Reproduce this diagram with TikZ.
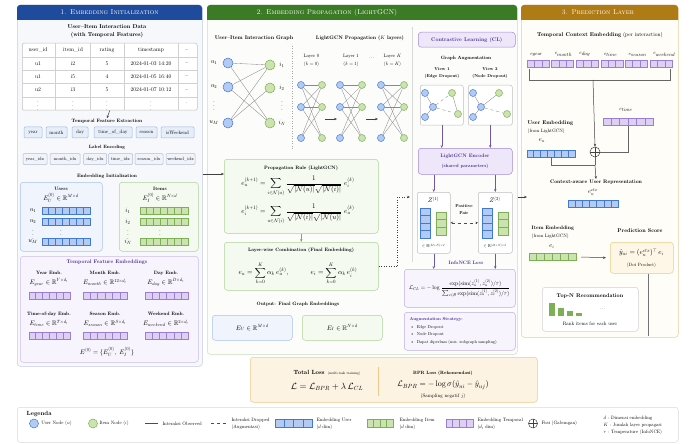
\documentclass[tikz,border=0pt]{standalone}
\usepackage{amsmath,amssymb}
\usepackage{fontspec}
\setmainfont{lmroman10-regular.otf}[BoldFont=lmroman10-bold.otf, ItalicFont=lmroman10-italic.otf, BoldItalicFont=lmroman10-bolditalic.otf, SmallCapsFont=lmromancaps10-regular.otf]
\DeclareFontShape{OML}{cmm}{m}{it}{<->cmmi10}{}
\DeclareFontShape{OML}{cmm}{b}{it}{<->cmmib10}{}
\DeclareFontShape{OMS}{cmsy}{m}{n}{<->cmsy10}{}
\DeclareFontShape{OMS}{cmsy}{b}{n}{<->cmbsy10}{}
\DeclareFontShape{OT1}{cmr}{m}{n}{<->cmr10}{}
\DeclareFontShape{OT1}{cmr}{bx}{n}{<->cmbx10}{}
\DeclareFontFamily{U}{msb}{}
\DeclareFontShape{U}{msb}{m}{n}{<->msbm10}{}
\usetikzlibrary{calc,arrows.meta}
\definecolor{ufill}{HTML}{B3CBF2}
\definecolor{uline}{HTML}{4279D2}
\definecolor{ifill}{HTML}{CBE3AE}
\definecolor{iline}{HTML}{7DB056}
\definecolor{tfill}{HTML}{DDD0F3}
\definecolor{tline}{HTML}{9A7ED4}
\definecolor{hblue}{HTML}{1E4B9C}
\definecolor{hgreen}{HTML}{3C7B25}
\definecolor{hgold}{HTML}{AE7B14}
\definecolor{pone}{HTML}{F7F8FC}
\definecolor{ponel}{HTML}{C3CCE0}
\definecolor{ptwo}{HTML}{FCFDFB}
\definecolor{ptwol}{HTML}{CADDBE}
\definecolor{pthree}{HTML}{FFFDF8}
\definecolor{pthreel}{HTML}{E3CFA0}
\definecolor{greenbf}{HTML}{F5FAF0}
\definecolor{greenbl}{HTML}{AFD395}
\definecolor{bluebf}{HTML}{EFF4FD}
\definecolor{bluebl}{HTML}{A9C2EE}
\definecolor{purbf}{HTML}{F8F4FD}
\definecolor{purbl}{HTML}{CDBDEB}
\definecolor{clf}{HTML}{EEE7FA}
\definecolor{cll}{HTML}{A488D9}
\definecolor{clt}{HTML}{4A2D91}
\definecolor{lossf}{HTML}{FDF3E3}
\definecolor{lossl}{HTML}{EEC88C}
\definecolor{encf}{HTML}{F1F3FA}
\definecolor{encl}{HTML}{B3BCD6}
\definecolor{featf}{HTML}{E6EEFA}
\definecolor{featl}{HTML}{9DB8E6}
\definecolor{edgec}{HTML}{8A8A8A}
\definecolor{predf}{HTML}{FEF6E6}
\definecolor{predl}{HTML}{F0C987}

\newcommand\hcells[6]{% name, center, width, height, cells, colour prefix
  \node[draw=#6line, fill=#6fill, minimum width=#3pt, minimum height=#4pt, inner sep=0pt, line width=0.5pt] (#1) at #2 {};
  \pgfmathtruncatemacro\cellsn{#5-1}
  \foreach \kk in {1,...,\cellsn}{\draw[#6line, line width=0.45pt] ($(#1.south west)!\kk/#5!(#1.south east)$) -- ($(#1.north west)!\kk/#5!(#1.north east)$);}
}
\newcommand\vcells[6]{% name, center, width, height, cells, colour prefix
  \node[draw=#6line, fill=#6fill, minimum width=#3pt, minimum height=#4pt, inner sep=0pt, line width=0.5pt] (#1) at #2 {};
  \pgfmathtruncatemacro\cellsn{#5-1}
  \foreach \kk in {1,...,\cellsn}{\draw[#6line, line width=0.45pt] ($(#1.north west)!\kk/#5!(#1.south west)$) -- ($(#1.north east)!\kk/#5!(#1.south east)$);}
}
\newcommand\fs[1]{\fontsize{#1}{#1}\selectfont}

\tikzset{
  ttl/.style={font=\fs{5.6}\bfseries, inner sep=0.5pt},
  ttlsm/.style={font=\fs{4.8}\bfseries, inner sep=0.5pt},
  ttlxs/.style={font=\fs{4.3}\bfseries, inner sep=0.4pt},
  txt/.style={font=\fs{4.8}, inner sep=0.5pt},
  txs/.style={font=\fs{4.3}, inner sep=0.4pt},
  tbl/.style={font=\fs{5.6}, inner sep=0.5pt},
  lg/.style={font=\fs{4.8}, inner sep=0.3pt, anchor=west},
  mth/.style={font=\fs{6.5}, inner sep=0.5pt},
  eqn/.style={font=\fs{7}, inner sep=0.5pt},
  msm/.style={font=\fs{5}, inner sep=0.3pt},
  hdr/.style={font=\fs{7}\scshape, text=white, inner sep=0pt},
  boxnw/.style={anchor=north west, inner sep=0pt, rounded corners=3pt, line width=0.5pt},
  arr/.style={-{Stealth[length=3pt,width=2.4pt]}, line width=0.5pt, draw=black!75},
  unode/.style={circle, draw=uline, fill=ufill, inner sep=0pt, minimum size=#1, line width=0.5pt},
  unode/.default=10pt,
  inode/.style={circle, draw=iline, fill=ifill, inner sep=0pt, minimum size=#1, line width=0.5pt},
  inode/.default=10pt,
  edge/.style={draw=edgec, line width=0.35pt},
  fbox/.style={draw=featl, fill=featf, rounded corners=1pt, minimum height=11pt, inner sep=0pt, line width=0.5pt, font=\fs{5}},
  ebox/.style={draw=encl, fill=encf, rounded corners=1pt, minimum height=11pt, inner sep=0pt, line width=0.5pt, font=\fs{4.6}},
  fuse/.style={circle, draw=black!75, inner sep=0pt, minimum size=#1, line width=0.5pt,
    path picture={\draw[black!75, line width=0.5pt] (path picture bounding box.north) -- (path picture bounding box.south) (path picture bounding box.west) -- (path picture bounding box.east);}},
  fuse/.default=10pt
}

\begin{document}
\begin{tikzpicture}[x=1pt,y=-1pt]
\useasboundingbox (0,0) rectangle (689,444);
\fill[white] (0,0) rectangle (689,444);

% ================= panels
\node[boxnw, draw=ponel, fill=pone, minimum width=185pt, minimum height=361pt] (P1) at (17,5) {};
\node[boxnw, draw=ptwol, fill=ptwo, minimum width=310pt, minimum height=349pt] (P2) at (207,5) {};
\node[boxnw, draw=pthreel, fill=pthree, minimum width=157pt, minimum height=332pt] (P3) at (521,5) {};
\fill[hblue, rounded corners=3pt] (17,20) -- (17,5) -- (202,5) -- (202,20);
\fill[hgreen, rounded corners=3pt] (207,20) -- (207,5) -- (517,5) -- (517,20);
\fill[hgold, rounded corners=3pt] (521,20) -- (521,5) -- (678,5) -- (678,20);
\node[hdr] (H1) at (109.5,12.5) {1. Embedding Initialization};
\node[hdr] (H2) at (327,12.5) {2. Embedding Propagation (LightGCN)};
\node[hdr] (H3) at (598,12.5) {3. Prediction Layer};

% ================= panel 1
\node[ttl] (t1a) at (107,27) {User--Item Interaction Data};
\node[ttl] (t1b) at (107,35.5) {(with Temporal Features)};
\node[boxnw, draw=black!25, fill=white, rounded corners=2pt, minimum width=175pt, minimum height=67pt] (tbl) at (22,43) {};
\foreach \yy in {57,70,83.5,97}{\draw[black!18, line width=0.4pt] (22,\yy) -- (197,\yy);}
\foreach \xx in {55,90,124,178}{\draw[black!18, line width=0.4pt] (\xx,43) -- (\xx,110);}
\foreach \va/\vb/\vc/\vd/\ve/\yy/\r in {
  user\_id/item\_id/rating/timestamp/\dots/50/0,
  u1/i2/5/2024-01-03 14:20/\dots/63.5/1,
  u1/i5/4/2024-01-05 16:40/\dots/76.5/2,
  u2/i3/5/2024-01-07 10:12/\dots/90/3,
  $\vdots$/$\vdots$/$\vdots$/$\vdots$/./103.5/4}{
  \node[tbl] (tb\r a) at (38,\yy) {\va};
  \node[tbl] (tb\r b) at (73,\yy) {\vb};
  \node[tbl] (tb\r c) at (107,\yy) {\vc};
  \node[tbl] (tb\r d) at (151,\yy) {\vd};
  \node[tbl] (tb\r e) at (187,\yy) {\ve};
}
\node[ttlsm] (tfe) at (107,121) {Temporal Feature Extraction};
\draw[arr] (tbl.south) -- (tfe.north);
\foreach \n/\x/\w [count=\i] in {year/33/18, month/56.5/21, day/80/16, time\_of\_day/113/38, season/146.5/21, isWeekend/177.5/33}{
  \node[fbox, minimum width=\w pt] (f\i) at (\x,132.5) {\n};
}
\node[font=\fs{4.6}\bfseries, inner sep=0.5pt] (lenc) at (107,147) {Label Encoding};
\foreach \n/\x/\w [count=\i] in {year\_idx/35/24, month\_idx/65/30, day\_idx/95/23, time\_idx/120.5/24, season\_idx/149/28, weekend\_idx/180.5/29}{
  \node[ebox, minimum width=\w pt] (le\i) at (\x,159) {\n};
}
\node[ttlsm] (einit) at (107,176.5) {Embedding Initialization};

% users
\node[boxnw, draw=bluebl, fill=bluebf, minimum width=82pt, minimum height=69pt] (UB) at (20,182) {};
\node[ttlsm] (ubt) at (61,188.5) {Users};
\node[mth] (ube) at (61,198) {$E_U^{(0)} \in \mathbb{R}^{M\times d}$};
\node[mth] (ul1) at (33,211) {$u_1$};
\node[mth] (ul2) at (33,222) {$u_2$};
\node[mth] (ul3) at (33,232) {$\vdots$};
\node[mth] (ul4) at (33,242) {$u_M$};
\node[mth] (ul5) at (61,232) {$\vdots$};
\hcells{ub1}{(66,211)}{48}{7}{7}{u}
\hcells{ub2}{(66,222)}{48}{7}{7}{u}
\hcells{ub4}{(66,242)}{48}{7}{7}{u}
% items
\node[boxnw, draw=greenbl, fill=greenbf, minimum width=79pt, minimum height=69pt] (IB) at (119,182) {};
\node[ttlsm] (ibt) at (160,188.5) {Items};
\node[mth] (ibe) at (160,198) {$E_I^{(0)} \in \mathbb{R}^{N\times d}$};
\node[mth] (il1) at (128,211) {$i_1$};
\node[mth] (il2) at (128,222) {$i_2$};
\node[mth] (il3) at (128,232) {$\vdots$};
\node[mth] (il4) at (128,242) {$i_N$};
\node[mth] (il5) at (160,232) {$\vdots$};
\hcells{ib1}{(164,211)}{48}{7}{7}{i}
\hcells{ib2}{(164,222)}{48}{7}{7}{i}
\hcells{ib4}{(164,242)}{48}{7}{7}{i}
% temporal embeddings
\node[boxnw, draw=purbl, fill=purbf, minimum width=178pt, minimum height=106pt] (TB) at (20,256) {};
\node[font=\fs{5.2}\bfseries, text=clt, inner sep=0.5pt] (tbt) at (107,262.5) {Temporal Feature Embeddings};
\node[ttlsm] (te1) at (49,273) {Year Emb.};
\node[ttlsm] (te2) at (105,273) {Month Emb.};
\node[ttlsm] (te3) at (166,273) {Day Emb.};
\node[mth] (tm1) at (49,282.5) {$E_{year} \in \mathbb{R}^{Y\times d_t}$};
\node[mth] (tm2) at (105,282.5) {$E_{month} \in \mathbb{R}^{12\times d_t}$};
\node[mth] (tm3) at (166,282.5) {$E_{day} \in \mathbb{R}^{D\times d_t}$};
\hcells{tb1}{(49.5,295.5)}{41}{7}{6}{t}
\hcells{tb2}{(105,295.5)}{44}{7}{6}{t}
\hcells{tb3}{(166.5,295.5)}{43}{7}{6}{t}
\node[ttlsm] (te4) at (49,314) {Time-of-day Emb.};
\node[ttlsm] (te5) at (105,314) {Season Emb.};
\node[ttlsm] (te6) at (166,314) {Weekend Emb.};
\node[mth] (tm4) at (49,323.5) {$E_{time} \in \mathbb{R}^{T\times d_t}$};
\node[mth] (tm5) at (105,323.5) {$E_{season} \in \mathbb{R}^{S\times d_t}$};
\node[mth] (tm6) at (166,323.5) {$E_{weekend} \in \mathbb{R}^{2\times d_t}$};
\hcells{tb4}{(49.5,336)}{41}{7}{6}{t}
\hcells{tb5}{(105,336)}{44}{7}{6}{t}
\hcells{tb6}{(166.5,336)}{43}{7}{6}{t}
\node[mth] (e0) at (107,352) {$E^{(0)} = \{E_U^{(0)},\; E_I^{(0)}\}$};

% ================= panel 2
\node[font=\fs{5.3}\bfseries, inner sep=0.5pt] (g1t) at (254,38) {User--Item Interaction Graph};
\node[font=\fs{5.1}\bfseries, inner sep=0.5pt] (g2t) at (360,38) {LightGCN Propagation ($K$ layers)};
\node[unode] (u1) at (228,63) {};
\node[unode] (u2) at (228,87) {};
\node[unode] (uM) at (228,123) {};
\node[inode] (i1) at (270,65) {};
\node[inode] (i2) at (270,88) {};
\node[inode] (iN) at (270,123) {};
\node[mth] (lu1) at (214,63) {$u_1$};
\node[mth] (lu2) at (214,87) {$u_2$};
\node[mth] (lu3) at (214,103) {$\vdots$};
\node[mth] (luM) at (214,123) {$u_M$};
\node[mth] (li1) at (282,65) {$i_1$};
\node[mth] (li2) at (282,88) {$i_2$};
\node[mth] (li3) at (282,103) {$\vdots$};
\node[mth] (liN) at (282,123) {$i_N$};
\foreach \a/\b in {u1/i1, u1/iN, u2/i1, u2/iN, uM/i1, uM/i2}{\draw[edge] (\a) -- (\b);}
\draw[black!35, dotted, line width=0.5pt] (292,46) -- (292,150);
\foreach \L/\ux/\ix/\nm/\kv in {0/301/322/0/0, 1/340/362/1/1, 2/381/404/K/K}{
  \node[txt] (lt\L) at ({(\ux+\ix)/2},56) {Layer $\nm$};
  \node[txt] (lk\L) at ({(\ux+\ix)/2},64.5) {$(k=\kv)$};
  \foreach \r/\yy in {1/85, 2/107, 3/138}{
    \node[unode=7pt] (m\L u\r) at (\ux,\yy) {};
    \node[inode=7pt] (m\L i\r) at (\ix,\yy) {};
  }
  \foreach \a/\b in {1/1,1/2,1/3,2/1,2/2,2/3,3/1,3/2}{\draw[edge] (m\L u\a) -- (m\L i\b);}
}
\node[txt] (ldots) at (372,58) {$\cdots$};
\coordinate (ar1s) at (325,119); \coordinate (ar1e) at (337,119);
\coordinate (ar2s) at (366,119); \coordinate (ar2e) at (378,119);
\draw[arr] (ar1s) -- (ar1e);
\draw[arr] (ar2s) -- (ar2e);

\node[boxnw, draw=greenbl, fill=greenbf, minimum width=154pt, minimum height=74pt] (prop) at (224,159) {};
\node[ttlsm] (propt) at (301,168) {Propagation Rule (LightGCN)};
\node[eqn] (eq1) at (298,186.5) {$\displaystyle e_u^{(k+1)} = \sum_{i\in\mathcal{N}(u)} \frac{1}{\sqrt{|\mathcal{N}(u)|}\sqrt{|\mathcal{N}(i)|}}\; e_i^{(k)}$};
\node[eqn] (eq2) at (298,214.5) {$\displaystyle e_i^{(k+1)} = \sum_{u\in\mathcal{N}(i)} \frac{1}{\sqrt{|\mathcal{N}(i)|}\sqrt{|\mathcal{N}(u)|}}\; e_u^{(k)}$};
\node[boxnw, draw=greenbl, fill=greenbf, minimum width=154pt, minimum height=48pt] (comb) at (224,242) {};
\node[ttlsm] (combt) at (301,250) {Layer-wise Combination (Final Embedding)};
\node[eqn] (eq3) at (298,273) {$\displaystyle e_u = \sum_{k=0}^{K} \alpha_k\, e_u^{(k)}, \qquad\quad e_i = \sum_{k=0}^{K} \alpha_k\, e_i^{(k)}$};
\draw[arr, draw=iline] (prop.south) -- (comb.north);
\coordinate (c174) at (0,174);
\draw[arr] (P1.east |- c174) -- (prop.west |- c174);

\node[ttlsm] (outt) at (298,304) {Output: Final Graph Embeddings};
\node[boxnw, draw=bluebl, fill=bluebf, minimum width=80pt, minimum height=25pt] (EU) at (212,315) {};
\node[mth] (EUt) at (EU.center) {$E_U \in \mathbb{R}^{M\times d}$};
\node[boxnw, draw=greenbl, fill=greenbf, minimum width=80pt, minimum height=25pt] (EI) at (302,315) {};
\node[mth] (EIt) at (EI.center) {$E_I \in \mathbb{R}^{N\times d}$};

% ---- contrastive learning column
\draw[black!15, line width=0.5pt] (412,27) -- (412,262);
\coordinate (clin) at (410,197);
\draw[arr, dotted] (comb.east) -- ++(19,0) |- (clin);
\node[boxnw, draw=cll, fill=clf, minimum width=97pt, minimum height=15pt] (CL) at (418,32) {};
\node[font=\fs{5.3}\bfseries, text=clt, inner sep=0.5pt] (CLt) at (CL.center) {Contrastive Learning (CL)};
\node[font=\fs{4.7}\bfseries, inner sep=0.5pt] (gat) at (466,58) {Graph Augmentation};
\node[ttlxs] (v1a) at (442,69) {View 1};
\node[ttlxs] (v1b) at (442,76.5) {(Edge Dropout)};
\node[ttlxs] (v2a) at (490,69) {View 2};
\node[ttlxs] (v2b) at (490,76.5) {(Node Dropout)};
\node[boxnw, draw=black!25, fill=white, rounded corners=2pt, minimum width=43pt, minimum height=40pt] (V1) at (420,85) {};
\node[boxnw, draw=black!25, fill=white, rounded corners=2pt, minimum width=44pt, minimum height=40pt] (V2) at (468,85) {};
\node[unode=7pt] (a1) at (425,93) {};
\node[unode=7pt] (a2) at (433,107) {};
\node[unode=7pt] (a3) at (425,117) {};
\node[inode=7pt] (a4) at (452,93) {};
\node[inode=7pt] (a5) at (458,114) {};
\draw[edge] (a2) -- (a1);
\draw[edge] (a2) -- (a3);
\draw[edge, dashed] (a2) -- (a4);
\draw[edge, dashed] (a2) -- (a5);
\draw[edge] (a4) -- (a5);
\node[unode=7pt] (b1) at (473,93) {};
\node[unode=7pt] (b2) at (481,107) {};
\node[unode=7pt] (b3) at (473,117) {};
\node[inode=7pt] (b4) at (499,93) {};
\node[inode=7pt] (b5) at (507,114) {};
\draw[edge] (b2) -- (b1);
\draw[edge] (b2) -- (b3);
\draw[edge] (b2) -- (b4);
\draw[edge, dashed] (b2) -- (b5);
\node[boxnw, draw=cll, fill=clf, minimum width=94pt, minimum height=26pt] (ENC) at (418,148) {};
\node[font=\fs{5}\bfseries, text=clt, inner sep=0.5pt] (enc1) at (465,156) {LightGCN Encoder};
\node[font=\fs{4.6}\bfseries, text=clt, inner sep=0.5pt] (enc2) at (465,166) {(shared parameters)};
\draw[arr, draw=clt!80] (V1.south) -- (V1.south |- ENC.north);
\draw[arr, draw=clt!80] (V2.south) -- (V2.south |- ENC.north);
\node[boxnw, draw=black!25, fill=white, rounded corners=2pt, minimum width=33pt, minimum height=61pt] (Z1) at (417,192) {};
\node[boxnw, draw=black!25, fill=white, rounded corners=2pt, minimum width=34pt, minimum height=61pt] (Z2) at (478,192) {};
\draw[arr, draw=clt!80] (Z1.north |- ENC.south) -- (Z1.north);
\draw[arr, draw=clt!80] (Z2.north |- ENC.south) -- (Z2.north);
\node[mth] (z1l) at (433.5,200) {$Z^{(1)}$};
\node[mth] (z2l) at (495,200) {$Z^{(2)}$};
\vcells{z1u}{(425,223)}{10}{30}{4}{u}
\vcells{z1i}{(441,223.5)}{10}{23}{3}{i}
\vcells{z2u}{(487.5,223)}{10}{30}{4}{u}
\vcells{z2i}{(503,223.5)}{10}{23}{3}{i}
\node[font=\fs{4.4}, inner sep=0.3pt] (z1r) at (433.5,246) {$\in \mathbb{R}^{(M+N)\times d}$};
\node[font=\fs{4.4}, inner sep=0.3pt] (z2r) at (495,246) {$\in \mathbb{R}^{(M+N)\times d}$};
\node[ttlxs] (pp1) at (464,206) {Positive};
\node[ttlxs] (pp2) at (464,213.5) {Pair};
\draw[{Stealth[length=2.5pt,width=2.2pt]}-{Stealth[length=2.5pt,width=2.2pt]}, dashed, black!70, line width=0.5pt] (Z1.east) -- (Z2.west);
\node[font=\fs{4.9}\bfseries, text=clt, inner sep=0.5pt] (infot) at (466,263) {InfoNCE Loss};
\node[boxnw, draw=cll!70, fill=purbf, minimum width=111pt, minimum height=38pt] (LOSS) at (404,269) {};
\draw[arr, draw=clt!80] (Z1.south) -- (Z1.south |- LOSS.north);
\draw[arr, draw=clt!80] (Z2.south) -- (Z2.south |- LOSS.north);
\node[font=\fs{5.7}, inner sep=0pt] (lcl) at (LOSS.center) {$\mathcal{L}_{CL} = -\log \dfrac{\exp(\mathrm{sim}(z_u^{(1)}, z_u^{(2)})/\tau)}{\sum_{v\in\mathcal{B}}\exp(\mathrm{sim}(z_u^{(1)}, z_v^{(2)})/\tau)}$};
\node[boxnw, draw=cll!70, fill=purbf, minimum width=111pt, minimum height=38pt] (AUG) at (404,312) {};
\node[font=\fs{4.4}\bfseries, text=clt, inner sep=0.4pt, anchor=west] (augt) at (409,319) {Augmentation Strategy:};
\node[txs, anchor=west] (aug1) at (410,327) {\textbullet\ \ Edge Dropout};
\node[txs, anchor=west] (aug2) at (410,334.5) {\textbullet\ \ Node Dropout};
\node[txs, anchor=west] (aug3) at (410,342) {\textbullet\ \ Dapat diperluas (mis. subgraph sampling)};

% ================= panel 3
\coordinate (c197) at (0,197);
\coordinate (p3in) at (527,197);
\draw[arr] (P2.east |- c197) -- (p3in);
\node[font=\fs{5.5}, inner sep=0.5pt] (tce) at (600,35) {\textbf{Temporal Context Embedding} (per interaction)};
\foreach \n [count=\i from 0] in {year,month,day,time,season,weekend}{
  \pgfmathsetmacro\cx{538+24.6*\i}
  \hcells{tc\i}{(\cx,63.5)}{22}{7}{3}{t}
  \node[msm, anchor=south west] (tcl\i) at ($(tc\i.north west)+(3,-2.5)$) {$e_{\n}$};
}
\draw[black!60, line width=0.5pt] ($(tc0.south west)+(2,2)$) |- ($(tc5.south east)+(-2,13)$) -- ($(tc5.south east)+(-2,2)$);
\coordinate (brm) at (593,80);
\node[fuse] (FU) at (595,152) {};
\draw[arr] (brm) -- (FU.north);
\node[msm] (etl) at (626,110) {$e_{time}$};
\hcells{etb}{(628,122)}{50}{7}{6}{t}
\draw[black!60, line width=0.5pt] (etb.south) |- (FU.east);
\node[font=\fs{5.4}\bfseries, inner sep=0.5pt, anchor=west] (uet) at (527,123) {User Embedding};
\node[txt, anchor=west] (uet2) at (527,131) {(from LightGCN)};
\node[mth] (uel) at (542,141) {$e_u$};
\hcells{ueb}{(551,153.5)}{48}{7}{7}{u}
\coordinate (mrg) at (595,165);
\draw[black!60, line width=0.5pt] (ueb.south) |- (mrg);
\draw[black!60, line width=0.5pt] (FU.south) -- (mrg);
\node[font=\fs{5.1}\bfseries, inner sep=0.5pt] (ctxt) at (596,182) {Context-aware User Representation};
\draw[arr] (mrg) -- (ctxt.north);
\node[mth] (ctxl) at (593,192) {$e_u^{ctx}$};
\hcells{ctxb}{(593,203.5)}{50}{7}{7}{u}
\node[font=\fs{5}\bfseries, inner sep=0.5pt, anchor=west] (iet) at (531,228) {Item Embedding};
\node[txt, anchor=west] (iet2) at (531,236) {(from LightGCN)};
\node[mth] (iel) at (552,247) {$e_i$};
\hcells{ieb}{(552.5,257)}{47}{7}{6}{i}
\node[font=\fs{5.4}\bfseries, inner sep=0.5pt] (pst) at (640,231) {Prediction Score};
\node[boxnw, draw=predl, fill=predf, minimum width=63pt, minimum height=31pt] (PRED) at (610,242) {};
\node[eqn] (pr1) at (641.5,252.5) {$\hat{y}_{ui} = (e_u^{ctx})^{\top}\, e_i$};
\node[font=\fs{4.6}, inner sep=0.5pt] (pr2) at (641.5,265) {(Dot Product)};
\draw[arr] ($(ieb.east)+(5,0)$) -- ($(PRED.west)+(-4,0)$);
\coordinate (pdown) at (648,336);
\draw[black!55, line width=0.5pt] (PRED.south -| pdown) -- (pdown);
\node[boxnw, draw=black!18, fill=white, minimum width=96pt, minimum height=44pt] (TOPN) at (542,287) {};
\node[font=\fs{5.4}\bfseries, inner sep=0.5pt] (topt) at (590,296) {Top-N Recommendation};
\fill[iline] (549,303) rectangle (555,316);
\fill[iline] (558,308) rectangle (564,316);
\fill[iline] (567,311) rectangle (573,316);
\fill[iline] (576,313) rectangle (582,316);
\node[txt] (tdots) at (603,309) {$\cdots$};
\node[font=\fs{5}, inner sep=0.5pt] (rank) at (590,324) {Rank items for each user};

% ================= total loss
\node[boxnw, draw=lossl, fill=lossf, minimum width=287pt, minimum height=45pt] (TL) at (250,357) {};
\node[inner sep=0.5pt] (tlt) at (327,373) {{\fs{6}\bfseries Total Loss} {\fs{3.6}(multi-task training)}};
\node[font=\fs{9}, inner sep=0.5pt] (tlf) at (327,387) {$\mathcal{L} = \mathcal{L}_{BPR} + \lambda\,\mathcal{L}_{CL}$};
\draw[lossl, line width=0.6pt] (378,367) -- (378,396);
\node[font=\fs{4.6}\bfseries, inner sep=0.5pt] (bprt) at (443,373) {BPR Loss (Rekomendasi)};
\node[font=\fs{8}, inner sep=0.5pt] (bprf) at (443,385) {$\mathcal{L}_{BPR} = -\log \sigma(\hat{y}_{ui} - \hat{y}_{uj})$};
\node[font=\fs{5}, inner sep=0.5pt] (bprs) at (443,396) {(Sampling negatif $j$)};

% ================= legend
\node[boxnw, draw=black!15, fill=white, minimum width=661pt, minimum height=35pt] (LEG) at (17,407) {};
\node[font=\fs{6}\bfseries, inner sep=0.5pt, anchor=west] (legt) at (26,414) {Legenda};
\node[unode=9pt] (lgu) at (34,423.5) {};
\node[lg] (lgut) at (41,423.5) {User Node ($u$)};
\node[inode=9pt] (lgi) at (93,423.5) {};
\node[lg] (lgit) at (99,423.5) {Item Node ($i$)};
\coordinate (ls1) at (145,423.5); \coordinate (ls2) at (158,423.5);
\draw[black!70, line width=0.5pt] (ls1) -- (ls2);
\node[lg] (lst) at (162,423.5) {Interaksi Observed};
\coordinate (ld1) at (211,423.5); \coordinate (ld2) at (227,423.5);
\draw[black!70, dashed, line width=0.5pt] (ld1) -- (ld2);
\node[lg] (ldt1) at (231,420.5) {Interaksi Dropped};
\node[lg] (ldt2) at (231,427.5) {(Augmentasi)};
\hcells{lgub}{(293.5,423.5)}{37}{8}{4}{u}
\node[lg] (lgub1) at (316,420.5) {Embedding User};
\node[lg] (lgub2) at (316,427.5) {($d$ dim)};
\hcells{lgib}{(380,423.5)}{26}{8}{4}{i}
\node[lg] (lgib1) at (399,420.5) {Embedding Item};
\node[lg] (lgib2) at (399,427.5) {($d$ dim)};
\hcells{lgtb}{(459.5,423.5)}{27}{8}{4}{t}
\node[lg] (lgtb1) at (477,420.5) {Embedding Temporal};
\node[lg] (lgtb2) at (477,427.5) {($d_t$ dim)};
\node[fuse=9pt] (lgf) at (533,423.5) {};
\node[lg] (lgft) at (541,423.5) {Fusi (Gabungan)};
\node[lg, font=\fs{4.8}] (n1) at (603,418.5) {$d$ : Dimensi embedding};
\node[lg, font=\fs{4.8}] (n2) at (603,425.5) {$K$ : Jumlah layer propagasi};
\node[lg, font=\fs{4.8}] (n3) at (603,432.5) {$\tau$ : Temperature (InfoNCE)};
\end{tikzpicture}
\end{document}
